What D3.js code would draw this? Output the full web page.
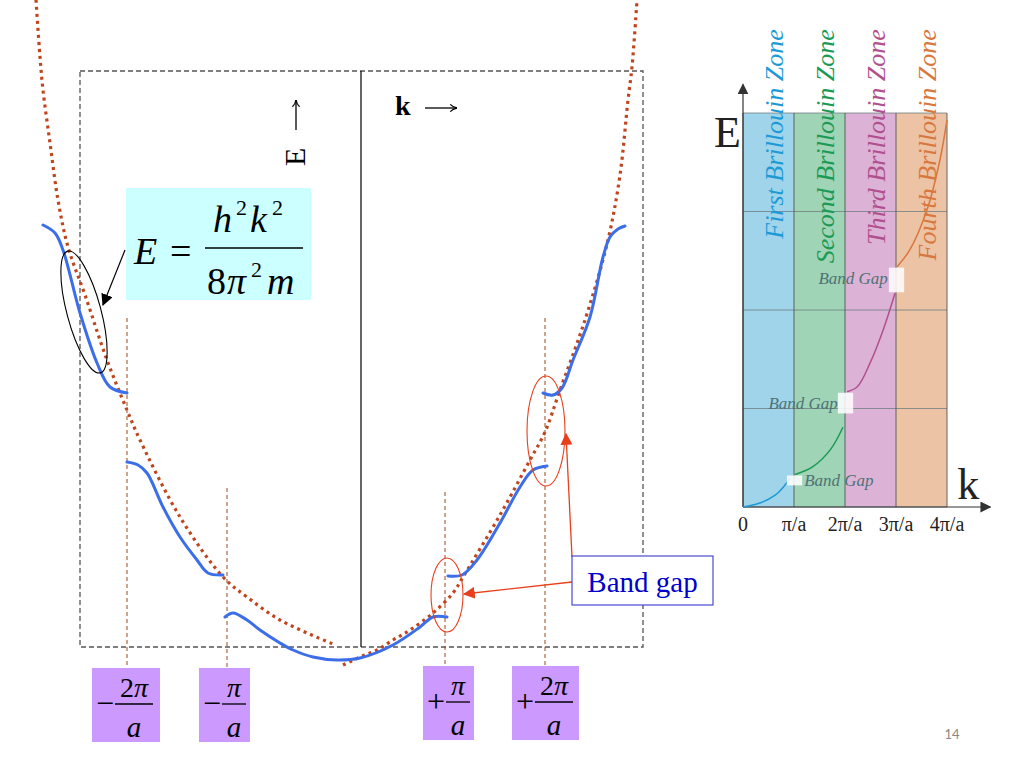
<!DOCTYPE html>
<html><head><meta charset="utf-8">
<script src="https://cdn.jsdelivr.net/npm/d3@7"></script>
<style>html,body{margin:0;padding:0;background:#fff;}svg{display:block;font-family:"Liberation Serif","Times New Roman",serif;}</style>
</head><body>
<svg id="c" width="1024" height="768"></svg>
<script>
// ---------- MAIN DIAGRAM DATA (k in ~100px units, E in ~100px units) ----------
const kDomain = [-2.81, 2.82];
const eDomain = [0, 5.76];
const zoneTicks = [-2.34, -1.34, 0.84, 1.84];          // -2π/a, -π/a, +π/a, +2π/a
const zoneTickSigns = ["−", "−", "+", "+"];
const zoneTickNums = ["2π", "π", "π", "2π"];
const zoneLineTops = [3.29, 1.59, 1.55, 3.29];          // E where dashed guide starts
// free-electron parabola (two dotted branches)
const parabolaLeft = [[-3.25,6.47],[-3.21,5.90],[-3.18,5.57],[-3.11,5.04],[-3.03,4.47],[-2.93,4.00],[-2.76,3.52],[-2.54,2.87],[-2.34,2.37],[-2.21,2.07],[-1.81,1.30],[-1.38,0.70],[-1.14,0.50],[-0.81,0.27],[-0.28,0.03]];
const parabolaRight = [[-0.18,-0.18],[-0.01,-0.10],[0.16,-0.03],[0.32,0.07],[0.49,0.17],[0.72,0.34],[0.92,0.54],[1.02,0.70],[1.39,1.32],[1.69,1.87],[1.84,2.15],[1.99,2.57],[2.24,3.27],[2.47,4.07],[2.59,4.72],[2.67,5.47],[2.71,5.80],[2.76,6.47]];
// energy bands (blue)
const bandA = [[-3.18,4.22],[-3.06,4.14],[-2.98,3.97],[-2.81,3.34],[-2.64,2.84],[-2.51,2.60],[-2.34,2.54]];
const bandB = [[-2.34,1.85],[-2.23,1.82],[-2.14,1.74],[-1.98,1.40],[-1.81,1.10],[-1.64,0.87],[-1.53,0.74],[-1.38,0.72]];
const bandC = [[-1.36,0.30],[-1.28,0.34],[-1.14,0.27],[-1.01,0.17],[-0.81,0.04],[-0.68,-0.03],[-0.48,-0.10],[-0.24,-0.13],[-0.01,-0.11],[0.32,0.02],[0.59,0.20],[0.72,0.30],[0.86,0.30]];
const bandD = [[0.87,0.71],[1.01,0.72],[1.16,0.87],[1.39,1.24],[1.59,1.60],[1.72,1.77],[1.86,1.81]];
const bandE = [[1.82,2.54],[1.92,2.52],[2.01,2.59],[2.12,2.87],[2.29,3.30],[2.42,3.90],[2.49,4.10],[2.57,4.18],[2.64,4.21]];
const bands = [bandA, bandB, bandC, bandD, bandE];

// ---------- INSET DATA (k in π/a, E in grid units) ----------
const insetTicks = ["0", "π/a", "2π/a", "3π/a", "4π/a"];
const insetK = [0, 1, 2, 3, 4];
const insetE = [0, 1, 2, 3, 4];
const zoneNames = ["First Brillouin Zone", "Second Brillouin Zone", "Third Brillouin Zone", "Fourth Brillouin Zone"];
const zoneFill = ["#9fd4ea", "#a0d4b6", "#ddb2d7", "#ecc3a5"];
const zoneText = ["#1d9ad6", "#1b9a55", "#b0508e", "#d8773e"];
const insetBand1 = [[0,0],[0.33,0.04],[0.63,0.12],[0.82,0.22],[0.92,0.29]];
const insetBand2 = [[1.02,0.33],[1.37,0.41],[1.71,0.58],[1.96,0.81]];
const insetBand3 = [[2.04,1.17],[2.24,1.22],[2.49,1.46],[2.75,1.80],[2.98,2.17]];
const insetBand4 = [[3.02,2.44],[3.27,2.61],[3.61,3.02],[3.86,3.52],[4.0,3.93]];
const insetBands = [insetBand1, insetBand2, insetBand3, insetBand4];
const insetGaps = [[0.86,1.16,0.22,0.32],[1.86,2.16,0.95,1.16],[2.86,3.16,2.18,2.43]];
const insetGapLabels = [[1.2,0.21,"start"],[1.86,1.0,"end"],[2.84,2.26,"end"]];

const svg = d3.select("#c");
const x = d3.scaleLinear().domain(kDomain).range([80, 643]);
const y = d3.scaleLinear().domain(eDomain).range([647, 71]);

const defs = svg.append("defs");
function marker(id, color, size) {
  defs.append("marker").attr("id", id).attr("viewBox", "0 0 10 10").attr("refX", 9).attr("refY", 5)
    .attr("markerWidth", size).attr("markerHeight", size).attr("orient", "auto-start-reverse")
    .attr("markerUnits", "userSpaceOnUse")
    .append("path").attr("d", "M0,0 L10,5 L0,10 z").attr("fill", color);
}
marker("ablack", "#000", 12);
marker("ared", "#e8401c", 12);
marker("agray", "#333", 11);
defs.append("marker").attr("id", "aglyph").attr("viewBox", "0 0 10 10").attr("refX", 9.5).attr("refY", 5)
  .attr("markerWidth", 9).attr("markerHeight", 9).attr("orient", "auto").attr("markerUnits", "userSpaceOnUse")
  .append("path").attr("d", "M2,1 Q5,4.3 9.8,5 Q5,5.7 2,9").attr("fill", "none").attr("stroke", "#000").attr("stroke-width", 1.3);

// dashed frame
svg.append("rect").attr("x", x(kDomain[0])).attr("y", y(eDomain[1]))
  .attr("width", x(kDomain[1]) - x(kDomain[0])).attr("height", y(eDomain[0]) - y(eDomain[1]))
  .attr("fill", "none").attr("stroke", "#555").attr("stroke-width", 1.3).attr("stroke-dasharray", "5,3");
// E axis (k = 0)
svg.append("line").attr("x1", x(0)).attr("x2", x(0)).attr("y1", y(eDomain[1])).attr("y2", y(eDomain[0]))
  .attr("stroke", "#000").attr("stroke-width", 1.2);

// zone boundary guides
svg.selectAll("line.zb").data(zoneTicks).join("line").attr("class", "zb")
  .attr("x1", d => x(d)).attr("x2", d => x(d))
  .attr("y1", (d, i) => y(zoneLineTops[i])).attr("y2", y(-0.38))
  .attr("stroke", "#a0461e").attr("stroke-width", 1).attr("stroke-dasharray", "4,3");

// axis labels
svg.append("text").attr("transform", `translate(${x(-0.56)},${y(4.81)}) rotate(-90)`)
  .attr("font-size", 30).attr("text-anchor", "start").text("E");
svg.append("line").attr("x1", x(-0.65)).attr("x2", x(-0.65)).attr("y1", y(5.17)).attr("y2", y(5.47))
  .attr("stroke", "#000").attr("stroke-width", 1.3).attr("marker-end", "url(#aglyph)");
svg.append("text").attr("x", x(0.34)).attr("y", y(5.32)).attr("font-size", 28).attr("font-weight", "bold").text("k");
svg.append("line").attr("x1", x(0.64)).attr("x2", x(0.96)).attr("y1", y(5.39)).attr("y2", y(5.39))
  .attr("stroke", "#000").attr("stroke-width", 1.3).attr("marker-end", "url(#aglyph)");

// parabola
const line = d3.line().x(d => x(d[0])).y(d => y(d[1])).curve(d3.curveCatmullRom.alpha(0.5));
[parabolaLeft, parabolaRight].forEach(p => {
  svg.append("path").attr("d", line(p)).attr("fill", "none").attr("stroke", "#c0441c")
    .attr("stroke-width", 3.2).attr("stroke-dasharray", "3,4");
});
// bands
bands.forEach(b => {
  svg.append("path").attr("d", line(b)).attr("fill", "none").attr("stroke", "#3b6ee8")
    .attr("stroke-width", 3).attr("stroke-linecap", "round");
});

// black ellipse + arrow to formula
svg.append("ellipse").attr("transform", `translate(${x(-2.77)},${y(3.35)}) rotate(-15)`)
  .attr("rx", 17).attr("ry", 63).attr("fill", "none").attr("stroke", "#000").attr("stroke-width", 1.1);
svg.append("line").attr("x1", x(-2.36)).attr("y1", y(3.97)).attr("x2", x(-2.58)).attr("y2", y(3.42))
  .attr("stroke", "#000").attr("stroke-width", 1.2).attr("marker-end", "url(#ablack)");

// red ellipses
svg.append("ellipse").attr("cx", x(0.86)).attr("cy", y(0.52)).attr("rx", 16).attr("ry", 37)
  .attr("fill", "none").attr("stroke", "#e8401c").attr("stroke-width", 1.1);
svg.append("ellipse").attr("cx", x(1.85)).attr("cy", y(2.16)).attr("rx", 19).attr("ry", 55)
  .attr("fill", "none").attr("stroke", "#e8401c").attr("stroke-width", 1.1);

// Band gap box and arrows
svg.append("line").attr("x1", x(2.11)).attr("y1", y(0.65)).attr("x2", x(1.03)).attr("y2", y(0.53))
  .attr("stroke", "#e8401c").attr("stroke-width", 1.3).attr("marker-end", "url(#ared)");
svg.append("line").attr("x1", x(2.11)).attr("y1", y(0.90)).attr("x2", x(2.05)).attr("y2", y(2.13))
  .attr("stroke", "#e8401c").attr("stroke-width", 1.3).attr("marker-end", "url(#ared)");
svg.append("rect").attr("x", x(2.11)).attr("y", y(0.91)).attr("width", x(3.52) - x(2.11)).attr("height", y(0.42) - y(0.91))
  .attr("fill", "#fff").attr("stroke", "#3a3acf").attr("stroke-width", 1.1);
svg.append("text").attr("x", (x(2.11) + x(3.52)) / 2).attr("y", y(0.55)).attr("text-anchor", "middle")
  .attr("font-size", 29).attr("fill", "#0000cc").text("Band gap");

// formula box
const fx = x(-2.35), fy = y(4.59);
svg.append("rect").attr("x", fx).attr("y", fy).attr("width", 185).attr("height", 112).attr("fill", "#ccffff");
const fg = svg.append("g").attr("transform", `translate(${fx},${fy})`).attr("font-size", 38);
fg.append("text").attr("x", 8).attr("y", 76).attr("font-style", "italic").text("E");
fg.append("text").attr("x", 44).attr("y", 76).text("=");
fg.append("text").attr("x", 87).attr("y", 44).attr("font-style", "italic").text("h");
fg.append("text").attr("x", 110).attr("y", 27).attr("font-size", 22).text("2");
fg.append("text").attr("x", 124).attr("y", 44).attr("font-style", "italic").text("k");
fg.append("text").attr("x", 146).attr("y", 27).attr("font-size", 22).text("2");
fg.append("line").attr("x1", 79).attr("x2", 177).attr("y1", 60).attr("y2", 60).attr("stroke", "#000").attr("stroke-width", 1.6);
fg.append("text").attr("x", 81).attr("y", 106).text("8");
fg.append("text").attr("x", 101).attr("y", 106).attr("font-style", "italic").text("π");
fg.append("text").attr("x", 125).attr("y", 89).attr("font-size", 22).text("2");
fg.append("text").attr("x", 141).attr("y", 106).attr("font-style", "italic").text("m");

// purple tick labels
const labW = [68, 51, 51, 67];
zoneTicks.forEach((k, i) => {
  const cx = x(k);
  const w = labW[i];
  const left = i < 2 ? cx - (i === 0 ? 35 : 28) : cx - (i === 2 ? 22 : 33);
  const top = y(-0.21) + (i >= 2 ? -2 : 0);
  const g = svg.append("g").attr("transform", `translate(${left},${top})`);
  g.append("rect").attr("width", w).attr("height", 74).attr("fill", "#cc99ff");
  g.append("text").attr("x", 4).attr("y", 46).attr("font-size", 32).text(zoneTickSigns[i]);
  const fc = i === 0 || i === 3 ? 42 : 35;
  const bw = i === 0 || i === 3 ? 19 : 12;
  g.append("line").attr("x1", fc - bw).attr("x2", fc + bw).attr("y1", 36).attr("y2", 36).attr("stroke", "#000").attr("stroke-width", 1.3);
  const num = g.append("text").attr("x", fc).attr("y", 29).attr("text-anchor", "middle").attr("font-size", 28);
  if (zoneTickNums[i] === "2π") { num.append("tspan").text("2"); num.append("tspan").attr("font-style", "italic").text("π"); }
  else num.append("tspan").attr("font-style", "italic").text("π");
  g.append("text").attr("x", fc).attr("y", 69).attr("text-anchor", "middle").attr("font-size", 29).attr("font-style", "italic").text("a");
});

// ---------- INSET ----------
const xi = d3.scaleLinear().domain([0, 4]).range([743, 947]);
const yi = d3.scaleLinear().domain([0, 4]).range([507, 113]);
zoneFill.forEach((c, i) => {
  svg.append("rect").attr("x", xi(i)).attr("y", yi(4)).attr("width", xi(i + 1) - xi(i)).attr("height", yi(0) - yi(4)).attr("fill", c);
});
insetE.forEach(e => svg.append("line").attr("x1", xi(0)).attr("x2", xi(4)).attr("y1", yi(e)).attr("y2", yi(e)).attr("stroke", "#6f7f80").attr("stroke-width", 0.8));
insetK.forEach(k => svg.append("line").attr("x1", xi(k)).attr("x2", xi(k)).attr("y1", yi(0)).attr("y2", yi(4)).attr("stroke", "#555").attr("stroke-width", 0.9));
// axes arrows
svg.append("line").attr("x1", xi(0)).attr("x2", xi(0)).attr("y1", yi(0)).attr("y2", yi(4.29)).attr("stroke", "#333").attr("stroke-width", 1.2).attr("marker-end", "url(#agray)");
svg.append("line").attr("x1", xi(0)).attr("x2", xi(4.85)).attr("y1", yi(0)).attr("y2", yi(0)).attr("stroke", "#333").attr("stroke-width", 1.2).attr("marker-end", "url(#agray)");
svg.append("text").attr("x", xi(-0.57)).attr("y", yi(3.65)).attr("font-size", 44).attr("fill", "#222").text("E");
svg.append("text").attr("x", xi(4.2)).attr("y", yi(0.08)).attr("font-size", 44).attr("fill", "#222").text("k");
insetTicks.forEach((t, i) => svg.append("text").attr("x", xi(insetK[i])).attr("y", yi(-0.24)).attr("text-anchor", "middle")
  .attr("font-size", 20).attr("fill", "#222").text(t));
// bands
const iline = d3.line().x(d => xi(d[0])).y(d => yi(d[1])).curve(d3.curveCatmullRom.alpha(0.5));
insetBands.forEach((b, i) => svg.append("path").attr("d", iline(b)).attr("fill", "none").attr("stroke", zoneText[i]).attr("stroke-width", 1.5));
insetGaps.forEach(g => svg.append("rect").attr("x", xi(g[0])).attr("y", yi(g[3])).attr("width", xi(g[1]) - xi(g[0])).attr("height", yi(g[2]) - yi(g[3]))
  .attr("fill", "#fff").attr("opacity", 0.85));
insetGapLabels.forEach(l => svg.append("text").attr("x", xi(l[0])).attr("y", yi(l[1])).attr("text-anchor", l[2])
  .attr("font-size", 17).attr("font-style", "italic").attr("fill", "#4f7275").text("Band Gap"));
// zone labels
zoneNames.forEach((n, i) => svg.append("text")
  .attr("transform", `translate(${xi(i + 0.5) + 14},${yi(4.85)}) rotate(-90)`)
  .attr("text-anchor", "end").attr("font-size", 26).attr("font-style", "italic").attr("fill", zoneText[i]).text(n));

// page number
svg.append("text").attr("x", 952).attr("y", 739).attr("font-family", "Lato, 'Open Sans', sans-serif").attr("font-size", 13).attr("fill", "#888").attr("text-anchor", "middle").text("14");
</script>
</body></html>
